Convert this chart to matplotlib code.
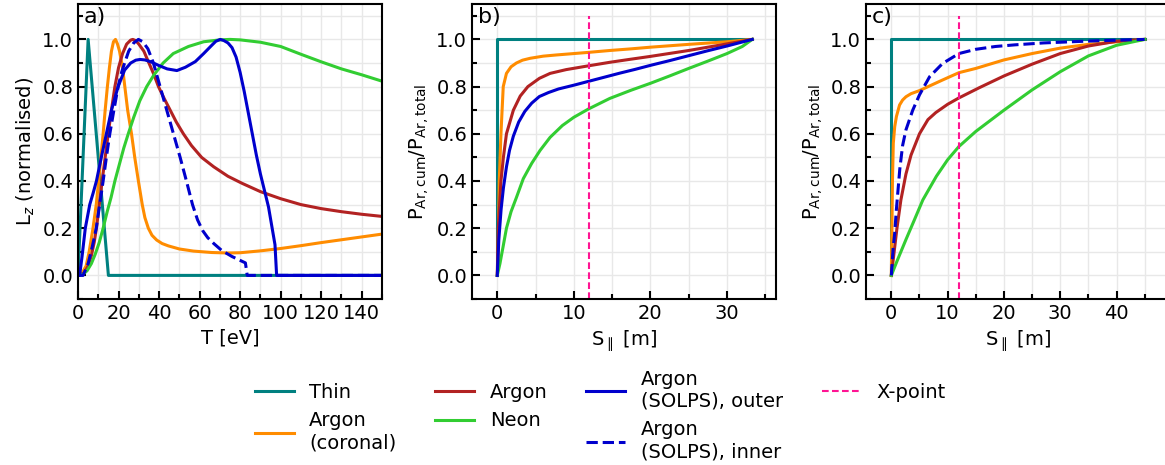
import numpy as np
import matplotlib
matplotlib.use("Agg")
import matplotlib.pyplot as plt
from matplotlib.ticker import MultipleLocator

plt.rcParams['font.family'] = ['DejaVu Sans']
plt.rcParams['font.size'] = 14

# colours
c_thin = '#008080'
c_cor = '#FF8C00'
c_ar = '#B22222'
c_ne = '#32CD32'
c_solps = '#0000CD'
c_xp = '#FF1493'

## a) cooling curves L_z(T), normalised
thin_T = [0, 5, 15, 150]
thin_L = [0, 1, 0, 0]

cor_T = [0, 2, 4, 5.5, 7.4, 9, 10.2, 11.3, 12.4, 13.4, 14.5, 15.5, 16.5, 17.5, 18.5, 19.5, 20.5,
         22, 23.1, 24.5, 26.4, 28, 29.8, 31.7, 33, 34.7, 36.5, 38.8, 41.5, 44.6, 50, 57, 66, 74,
         80, 90, 100, 110, 120, 130, 140, 150]
cor_L = [0, 0.01, 0.04, 0.1, 0.2, 0.3, 0.4, 0.5, 0.6, 0.7, 0.8, 0.88, 0.95, 0.99, 1.0, 0.98, 0.95,
         0.88, 0.8, 0.7, 0.6, 0.5, 0.4, 0.3, 0.245, 0.2, 0.17, 0.15, 0.135, 0.125, 0.112, 0.103, 0.097, 0.095,
         0.096, 0.104, 0.114, 0.126, 0.139, 0.151, 0.163, 0.175]

ar_T = [0, 3, 5, 6.5, 8, 9.1, 10.5, 11.9, 13.4, 14.9, 16.5, 18.2, 20, 22, 24, 26, 27, 28.5, 30,
        32.5, 35, 37.5, 39.7, 42.5, 45.5, 48.5, 52, 56, 61, 67, 74, 81, 90, 100, 110, 120, 130, 140, 150]
ar_L = [0, 0.01, 0.04, 0.08, 0.14, 0.2, 0.3, 0.4, 0.5, 0.6, 0.7, 0.8, 0.88, 0.94, 0.98, 0.997, 1.0, 0.995, 0.98,
        0.95, 0.9, 0.85, 0.8, 0.75, 0.7, 0.65, 0.6, 0.55, 0.5, 0.46, 0.42, 0.39, 0.355, 0.325, 0.3, 0.283, 0.27, 0.259, 0.25]

ne_T = [0, 2.5, 4.5, 6.6, 8.5, 10.5, 12.4, 14.4, 16.3, 18.2, 20.4, 22.6, 24.8, 27.5, 30.5, 33.9, 37.5,
        42, 47, 54.5, 62, 70, 75, 80, 90, 100, 110, 120, 130, 140, 150]
ne_L = [0, 0.005, 0.02, 0.05, 0.09, 0.14, 0.2, 0.27, 0.33, 0.4, 0.47, 0.54, 0.6, 0.67, 0.74, 0.8, 0.85,
        0.9, 0.94, 0.97, 0.99, 0.998, 1.0, 0.998, 0.988, 0.97, 0.937, 0.905, 0.875, 0.85, 0.823]

out_T = [0, 0.8, 2, 3.6, 5.8, 7.5, 9.1, 11.5, 14, 16.5, 19.8, 23, 26, 28.5, 30.6, 33, 36, 39.7, 44, 48.8,
         53, 57.9, 62, 66, 68, 70.2, 72, 74, 76, 78, 80, 82, 84, 86, 88, 90, 92, 94, 97.2, 98, 150]
out_L = [0, 0, 0.08, 0.2, 0.3, 0.35, 0.4, 0.5, 0.6, 0.7, 0.8, 0.87, 0.9, 0.912, 0.915, 0.913, 0.905, 0.89, 0.875, 0.868,
         0.882, 0.906, 0.94, 0.975, 0.992, 1.0, 0.995, 0.985, 0.965, 0.925, 0.86, 0.78, 0.69, 0.6, 0.51, 0.43, 0.36, 0.29, 0.13, 0.0, 0.0]

inn_T = [0, 2.5, 5, 7, 9, 10.7, 12.4, 14, 15.7, 17.7, 19.8, 21.5, 23, 25, 27.5, 29.8, 32, 34.5, 37.2,
         40.5, 43.8, 47.1, 50.4, 53.5, 56.5, 59, 61.5, 64, 67, 71, 76, 82.6, 83.5, 150]
inn_L = [0, 0, 0.05, 0.12, 0.2, 0.3, 0.4, 0.5, 0.6, 0.7, 0.8, 0.86, 0.9, 0.95, 0.985, 1.0, 0.99, 0.96, 0.9,
         0.8, 0.7, 0.6, 0.5, 0.4, 0.3, 0.235, 0.19, 0.16, 0.135, 0.105, 0.08, 0.053, 0.0, 0.0]

## b) cumulative power, outer leg
thin_Sb = [0, 0, 33.3]
thin_Pb = [0, 1, 1]
cor_Sb = [0, 0.09, 0.26, 0.48, 0.78, 1.2, 1.8, 2.5, 3.3, 4.3, 6, 7.7, 10, 11.9, 14.7, 17.5, 20, 25, 30, 33.3]
cor_Pb = [0, 0.05, 0.4, 0.6, 0.8, 0.856, 0.884, 0.9, 0.912, 0.92, 0.929, 0.934, 0.94, 0.945, 0.953, 0.96, 0.967, 0.979, 0.99, 1.0]
ar_Sb = [0, 0.13, 0.48, 0.8, 1.2, 2.1, 3, 4, 5.5, 6.9, 9, 11.9, 14.7, 17, 20, 25, 30, 33.3]
ar_Pb = [0, 0.2, 0.4, 0.5, 0.6, 0.7, 0.76, 0.8, 0.835, 0.856, 0.872, 0.888, 0.903, 0.914, 0.928, 0.953, 0.981, 1.0]
ne_Sb = [0, 0.35, 0.75, 1.2, 1.8, 2.5, 3.4, 4.5, 5.6, 6.9, 8.5, 10, 11.9, 14.7, 17.5, 20, 22.5, 25, 27.5, 30, 32, 33.3]
ne_Pb = [0, 0.05, 0.12, 0.2, 0.27, 0.33, 0.41, 0.475, 0.53, 0.585, 0.635, 0.67, 0.705, 0.75, 0.785, 0.814, 0.845, 0.877, 0.908, 0.94, 0.97, 1.0]
out_Sb = [0, 0.2, 0.5, 0.8, 1.2, 1.6, 2.1, 2.8, 3.6, 4.5, 5.5, 6.7, 8, 10, 12, 14, 16, 18, 20, 22.5, 25, 27.5, 30, 33.3]
out_Pb = [0, 0.15, 0.28, 0.37, 0.46, 0.53, 0.59, 0.65, 0.695, 0.73, 0.758, 0.775, 0.79, 0.806, 0.823, 0.84, 0.857, 0.873, 0.89, 0.91, 0.931, 0.952, 0.972, 1.0]

## c) cumulative power, inner leg
thin_Sc = [0, 0, 45]
thin_Pc = [0, 1, 1]
cor_Sc = [0, 0.1, 0.2, 0.35, 0.6, 0.9, 1.46, 2.0, 2.6, 3.5, 5, 7, 9.1, 12, 15, 20, 25, 30, 35, 40, 45]
cor_Pc = [0, 0.2, 0.4, 0.56, 0.63, 0.673, 0.722, 0.743, 0.757, 0.77, 0.783, 0.805, 0.828, 0.859, 0.877, 0.913, 0.94, 0.963, 0.979, 0.99, 1.0]
ar_Sc = [0, 0.5, 1.0, 1.7, 2.6, 3.5, 5, 6.5, 7.9, 10, 12, 15.6, 20, 25, 30, 35, 40, 45]
ar_Pc = [0, 0.1, 0.2, 0.32, 0.43, 0.51, 0.6, 0.66, 0.69, 0.725, 0.752, 0.795, 0.845, 0.895, 0.94, 0.972, 0.992, 1.0]
ne_Sc = [0, 1, 2.6, 4, 5.6, 8, 10, 12, 15, 20, 25, 30, 35, 40, 45]
ne_Pc = [0, 0.06, 0.152, 0.23, 0.32, 0.42, 0.49, 0.546, 0.61, 0.70, 0.786, 0.863, 0.93, 0.975, 1.0]
inn_Sc = [0, 0.3, 0.6, 0.9, 1.5, 2.0, 2.6, 3.8, 5, 6.8, 9.1, 12, 15, 18.5, 22, 27, 33, 39, 45]
inn_Pc = [0, 0.11, 0.18, 0.28, 0.45, 0.55, 0.617, 0.70, 0.765, 0.842, 0.898, 0.94, 0.958, 0.97, 0.977, 0.985, 0.991, 0.996, 1.0]

xpoint = 12.0
xp_y = [-0.1, 1.1]

lw = 2.2
fig = plt.figure(figsize=(11.65, 4.65), dpi=100)
W, H = 1165., 465.
ax_a = fig.add_axes([78/W, 1-299/H, 304/W, 295/H])
ax_b = fig.add_axes([472/W, 1-299/H, 304/W, 295/H])
ax_c = fig.add_axes([866/W, 1-299/H, 304/W, 295/H])

def style(ax, lab):
    ax.set_ylim(-0.1, 1.15)
    ax.yaxis.set_major_locator(MultipleLocator(0.2))
    ax.yaxis.set_minor_locator(MultipleLocator(0.1))
    ax.grid(which='both', color='#e8e8e8', lw=1.0, zorder=0)
    ax.set_axisbelow(True)
    ax.tick_params(which='both', direction='in', width=1.5, colors='black')
    ax.tick_params(which='major', length=6)
    ax.tick_params(which='minor', length=3.5)
    for s in ax.spines.values():
        s.set_linewidth(1.5)
    ax.text(0.02, 0.99, lab, transform=ax.transAxes, va='top', ha='left', fontsize=16)

# a)
h_thin, = ax_a.plot(thin_T, thin_L, color=c_thin, lw=lw, label='Thin')
h_cor, = ax_a.plot(cor_T, cor_L, color=c_cor, lw=lw, label='Argon\n(coronal)')
h_ar, = ax_a.plot(ar_T, ar_L, color=c_ar, lw=lw, label='Argon')
h_ne, = ax_a.plot(ne_T, ne_L, color=c_ne, lw=lw, label='Neon')
h_out, = ax_a.plot(out_T, out_L, color=c_solps, lw=lw, label='Argon\n(SOLPS), outer')
h_inn, = ax_a.plot(inn_T, inn_L, color=c_solps, lw=lw, ls='--', label='Argon\n(SOLPS), inner')
ax_a.set_xlim(0, 150)
ax_a.xaxis.set_major_locator(MultipleLocator(20))
ax_a.xaxis.set_minor_locator(MultipleLocator(10))
ax_a.set_xlabel('T [eV]')
ax_a.set_ylabel('L$_z$ (normalised)')
style(ax_a, 'a)')

# b)
ax_b.plot(thin_Sb, thin_Pb, color=c_thin, lw=lw)
ax_b.plot(cor_Sb, cor_Pb, color=c_cor, lw=lw)
ax_b.plot(ar_Sb, ar_Pb, color=c_ar, lw=lw)
ax_b.plot(ne_Sb, ne_Pb, color=c_ne, lw=lw)
ax_b.plot(out_Sb, out_Pb, color=c_solps, lw=lw)
h_xp, = ax_b.plot([xpoint, xpoint], xp_y, color=c_xp, lw=1.5, ls='--', dashes=(3.2, 1.6), label='X-point')
ax_b.set_xlim(-3.3, 36.4)
ax_b.xaxis.set_major_locator(MultipleLocator(10))
ax_b.xaxis.set_minor_locator(MultipleLocator(5))
ax_b.set_xlabel(r'S$_\parallel$ [m]')
ax_b.set_ylabel(r'P$_{\rm Ar,cum}$/P$_{\rm Ar,total}$')
style(ax_b, 'b)')

# c)
ax_c.plot(thin_Sc, thin_Pc, color=c_thin, lw=lw)
ax_c.plot(cor_Sc, cor_Pc, color=c_cor, lw=lw)
ax_c.plot(ar_Sc, ar_Pc, color=c_ar, lw=lw)
ax_c.plot(ne_Sc, ne_Pc, color=c_ne, lw=lw)
ax_c.plot(inn_Sc, inn_Pc, color=c_solps, lw=lw, ls='--')
ax_c.plot([xpoint, xpoint], xp_y, color=c_xp, lw=1.5, ls='--', dashes=(3.2, 1.6))
ax_c.set_xlim(-4.5, 49.5)
ax_c.xaxis.set_major_locator(MultipleLocator(10))
ax_c.xaxis.set_minor_locator(MultipleLocator(5))
ax_c.set_xlabel(r'S$_\parallel$ [m]')
ax_c.set_ylabel(r'P$_{\rm Ar,cum}$/P$_{\rm Ar,total}$')
style(ax_c, 'c)')

handles = [h_thin, h_cor, h_ar, h_ne, h_out, h_inn, h_xp]
fig.legend(handles=handles, labels=[h.get_label() for h in handles], ncol=4,
           loc='upper left', bbox_to_anchor=(245/W, 1-360/H), frameon=False,
           borderpad=0, fontsize=14)

fig.savefig('out.png', dpi=100)
